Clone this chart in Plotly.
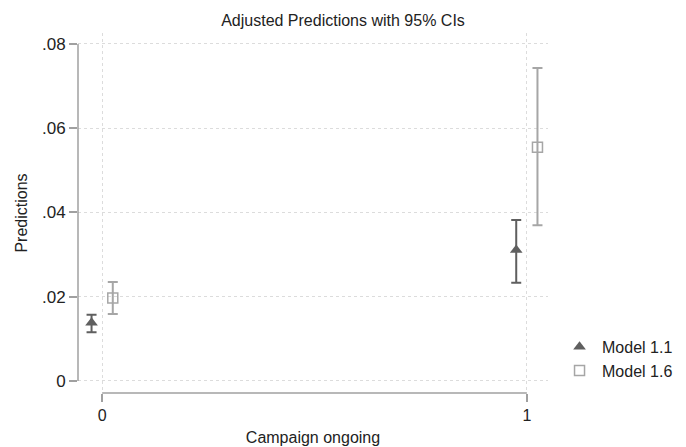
import plotly.graph_objects as go

categories = [0, 1]
m11_pred = [0.0138, 0.0311]
m11_lo = [0.0116, 0.0233]
m11_hi = [0.0157, 0.0382]
m16_pred = [0.0197, 0.0555]
m16_lo = [0.0159, 0.0370]
m16_hi = [0.0235, 0.0743]
ytick_vals = [0, 0.02, 0.04, 0.06, 0.08]
ytick_text = ["0", ".02", ".04", ".06", ".08"]

DARK = "#5f5f5f"
LIGHT = "#a6a6a6"
FONT = "Liberation Sans, Arial, sans-serif"

off = 0.025
fig = go.Figure()
fig.add_trace(go.Scatter(
    x=[c - off for c in categories], y=m11_pred, mode="markers", name="Model 1.1",
    marker=dict(symbol="triangle-up", size=11, color=DARK),
    error_y=dict(type="data", symmetric=False,
                 array=[h - p for h, p in zip(m11_hi, m11_pred)],
                 arrayminus=[p - l for p, l in zip(m11_pred, m11_lo)],
                 color=DARK, thickness=2, width=5),
))
fig.add_trace(go.Scatter(
    x=[c + off for c in categories], y=m16_pred, mode="markers", name="Model 1.6",
    marker=dict(symbol="square-open", size=10, color=LIGHT, line=dict(width=1.5, color=LIGHT)),
    error_y=dict(type="data", symmetric=False,
                 array=[h - p for h, p in zip(m16_hi, m16_pred)],
                 arrayminus=[p - l for p, l in zip(m16_pred, m16_lo)],
                 color=LIGHT, thickness=2, width=5),
))

# Stata-style detached axis lines
fig.add_shape(type="line", xref="paper", yref="y", x0=0, x1=0, y0=0, y1=0.08,
              line=dict(color="#a0a0a0", width=1.5))
fig.add_shape(type="line", xref="x", yref="paper", x0=0, x1=1, y0=0, y1=0,
              line=dict(color="#a0a0a0", width=1.5))

fig.update_layout(
    width=686, height=447,
    margin=dict(l=78, r=138, t=33, b=54),
    paper_bgcolor="white", plot_bgcolor="white",
    font=dict(family=FONT, color="#222222"),
    title=dict(text="Adjusted Predictions with 95% CIs", x=0.5, xref="container",
               xanchor="center", y=0.967, yref="container", yanchor="top",
               font=dict(size=16, color="#222222")),
    xaxis=dict(range=[-0.0569, 1.0498], tickvals=categories, ticktext=["0", "1"],
               automargin=False,
               showline=False, zeroline=False, ticks="outside", ticklen=8,
               tickcolor="#a0a0a0", tickwidth=1.5,
               showgrid=True, gridcolor="#dcdcdc", griddash="dot", gridwidth=1,
               tickfont=dict(size=16),
               title=dict(text="Campaign ongoing", font=dict(size=16), standoff=8)),
    yaxis=dict(range=[-0.00285, 0.08261], tickvals=ytick_vals, ticktext=ytick_text,
               automargin=False,
               showline=False, zeroline=False, ticks="outside", ticklen=8,
               tickcolor="#a0a0a0", tickwidth=1.5,
               showgrid=True, gridcolor="#dcdcdc", griddash="dot", gridwidth=1,
               tickfont=dict(size=17),
               title=dict(text="Predictions", font=dict(size=16), standoff=10)),
    legend=dict(xref="container", yref="container", x=0.812, y=0.1973,
                xanchor="left", yanchor="middle", itemwidth=35,
                font=dict(size=16, color="#222222"), bgcolor="rgba(0,0,0,0)"),
)

fig.write_html("out.html", config={"displayModeBar": False},
               post_script="document.body.style.margin='0px';")
